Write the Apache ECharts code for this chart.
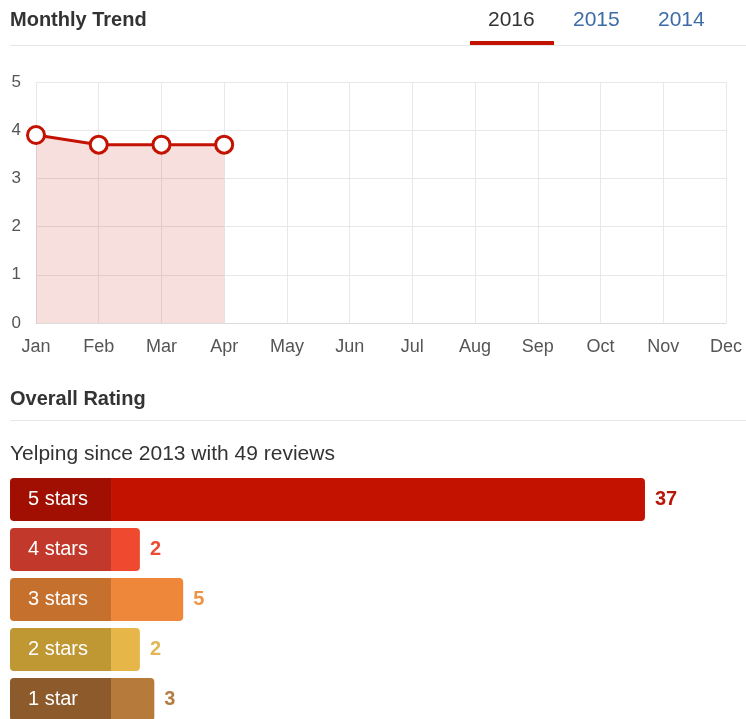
<!DOCTYPE html>
<html>
<head>
<meta charset="utf-8">
<script src="https://cdn.jsdelivr.net/npm/echarts@6/dist/echarts.min.js"></script>
<style>
  html, body { margin: 0; padding: 0; background: #fff; }
  #chart { width: 746px; height: 719px; }
</style>
</head>
<body>
<div id="chart"></div>
<script>
// monthly trend
const months = ["Jan", "Feb", "Mar", "Apr", "May", "Jun", "Jul", "Aug", "Sep", "Oct", "Nov", "Dec"];
const monthlyRating = [3.9, 3.7, 3.7, 3.7];
const years = ["2016", "2015", "2014"];

// overall rating
const starLabels = ["5 stars", "4 stars", "3 stars", "2 stars", "1 star"];
const starCounts = [37, 2, 5, 2, 3];
const darkColors = ["#a00f02", "#c2392c", "#c6702e", "#bf9733", "#8d5a2b"];
const lightColors = ["#c41200", "#ef4a2f", "#ef873a", "#e6b748", "#b67a3a"];
const valueColors = ["#b8160a", "#ec4a32", "#ef9344", "#e2b656", "#b27d42"];
const labelBlock = 7; // width of the dark label part, in count units

const font = '"Liberation Sans", Helvetica, Arial, sans-serif';
const chart = echarts.init(document.getElementById("chart"));

chart.setOption({
  animation: false,
  textStyle: { fontFamily: font },
  graphic: [
    { type: "text", left: 10, top: 10, style: { text: "Monthly Trend", font: "bold 20px " + font, fill: "#333" } },
    { type: "text", left: 488, top: 10, style: { text: years[0], font: "21px " + font, fill: "#333" } },
    { type: "text", left: 573, top: 10, style: { text: years[1], font: "21px " + font, fill: "#3d6ca6" } },
    { type: "text", left: 658, top: 10, style: { text: years[2], font: "21px " + font, fill: "#3d6ca6" } },
    { type: "rect", shape: { x: 10, y: 45, width: 736, height: 1 }, style: { fill: "#e6e6e6" } },
    { type: "rect", shape: { x: 470, y: 41, width: 84, height: 4 }, style: { fill: "#c41200" } },
    { type: "text", left: 10, top: 389, style: { text: "Overall Rating", font: "bold 20px " + font, fill: "#333" } },
    { type: "rect", shape: { x: 10, y: 420, width: 736, height: 1 }, style: { fill: "#e6e6e6" } },
    { type: "text", left: 10, top: 444, style: { text: "Yelping since 2013 with 49 reviews", font: "21px " + font, fill: "#333" } }
  ],
  grid: [
    { left: 36, right: 20, top: 82, bottom: 396, outerBoundsMode: "none" },
    { left: 10, right: 0, top: 474.5, height: 250, outerBoundsMode: "none" }
  ],
  xAxis: [
    {
      gridIndex: 0,
      type: "category",
      data: months,
      boundaryGap: false,
      axisLine: { lineStyle: { color: "#dcdcdc" } },
      axisTick: { show: false },
      axisLabel: { color: "#555", fontSize: 18, margin: 15 },
      splitLine: { show: true, lineStyle: { color: "#e8e8e8" } }
    },
    {
      gridIndex: 1,
      type: "value",
      min: 0,
      max: 51,
      show: false
    }
  ],
  yAxis: [
    {
      gridIndex: 0,
      type: "value",
      min: 0,
      max: 5,
      interval: 1,
      axisLine: { show: false },
      axisTick: { show: false },
      axisLabel: { color: "#555", fontSize: 17, margin: 15 },
      splitLine: { lineStyle: { color: "#e8e8e8" } }
    },
    {
      gridIndex: 1,
      type: "category",
      data: starLabels,
      inverse: true,
      show: false
    }
  ],
  series: [
    {
      type: "line",
      xAxisIndex: 0,
      yAxisIndex: 0,
      data: monthlyRating,
      symbol: "circle",
      symbolSize: 17,
      lineStyle: { color: "#c41200", width: 3 },
      itemStyle: { color: "#fff", borderColor: "#c41200", borderWidth: 3 },
      areaStyle: { color: "rgba(196,18,0,0.19)" }
    },
    {
      type: "bar",
      xAxisIndex: 1,
      yAxisIndex: 1,
      stack: "stars",
      barWidth: 43,
      data: starLabels.map((name, i) => ({
        value: labelBlock,
        itemStyle: { color: darkColors[i], borderRadius: [4, 0, 0, 4] }
      })),
      label: {
        show: true,
        position: "insideLeft",
        distance: 18,
        color: "#fff",
        fontSize: 20,
        formatter: (p) => p.name
      }
    },
    {
      type: "bar",
      xAxisIndex: 1,
      yAxisIndex: 1,
      stack: "stars",
      barWidth: 43,
      data: starCounts.map((v, i) => ({
        value: v,
        itemStyle: { color: lightColors[i], borderRadius: [0, 4, 4, 0] },
        label: { color: valueColors[i] }
      })),
      label: {
        show: true,
        position: "right",
        distance: 10,
        fontSize: 20,
        fontWeight: "bold"
      }
    }
  ]
});
</script>
</body>
</html>
